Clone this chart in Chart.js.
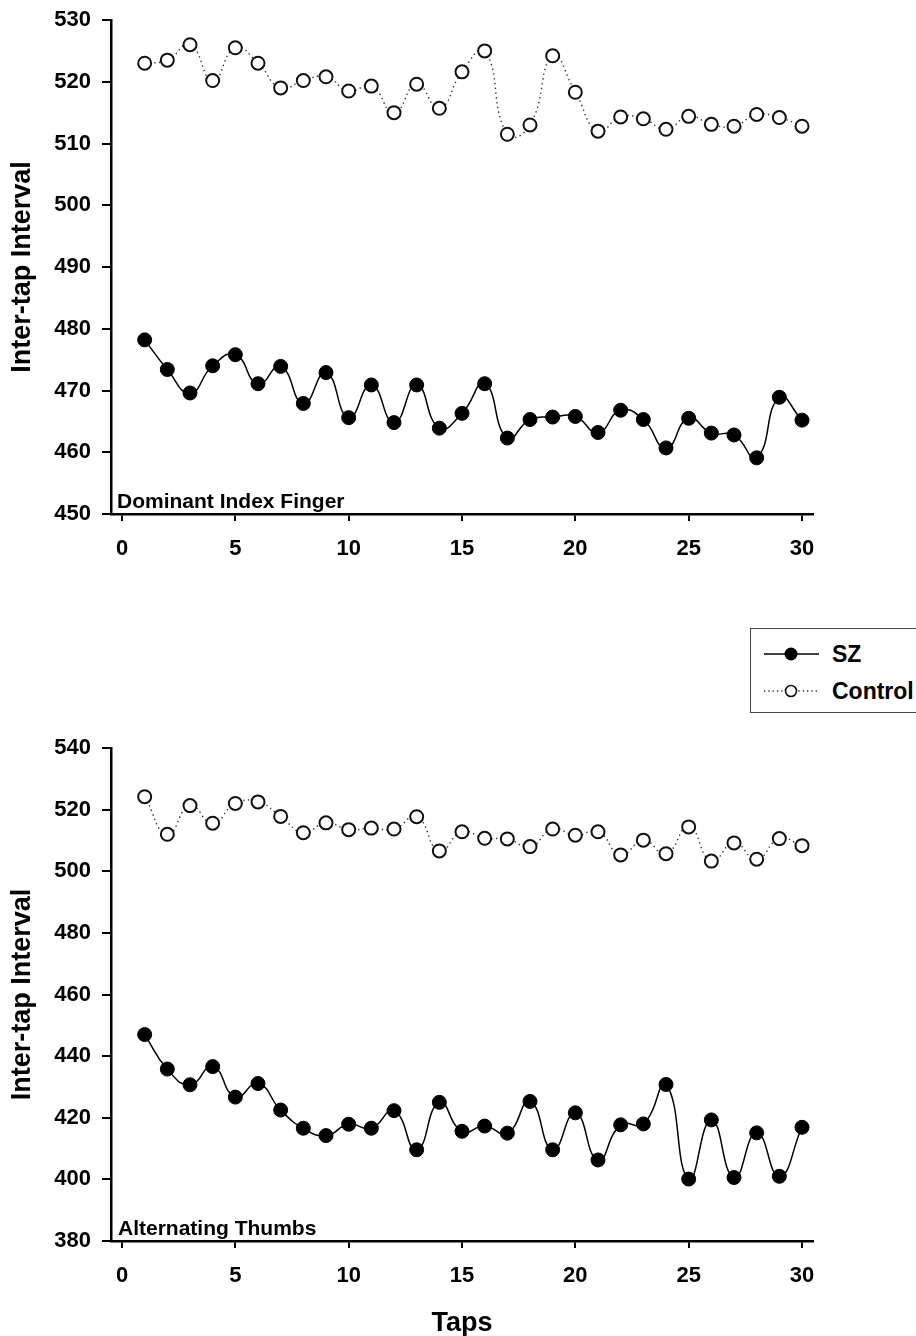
<!DOCTYPE html>
<html>
<head>
<meta charset="utf-8">
<title>Inter-tap Interval</title>
<script src="https://cdn.jsdelivr.net/npm/chart.js@4/dist/chart.umd.min.js"></script>
<style>
  body { margin: 0; background: #fff; }
  #page { position: relative; width: 916px; height: 1336px; overflow: hidden; font-family: "Liberation Sans", Arial, sans-serif; color: #000; }
  #page canvas { position: absolute; left: 0; }
  .panel-label { position: absolute; font-size: 21px; line-height: 21px; font-weight: bold; white-space: nowrap; }
  #legend { position: absolute; left: 750px; top: 628px; width: 200px; height: 85px; border: 1px solid #444; box-sizing: border-box; background: #fff; }
  #legend svg { position: absolute; left: 0; top: 0; }
  #legend span { position: absolute; left: 81px; font-size: 23px; line-height: 26px; font-weight: bold; }
</style>
</head>
<body>
<div id="page">
  <canvas id="indexChart" width="916" height="570" style="top:0px"></canvas>
  <canvas id="thumbsChart" width="916" height="608" style="top:728px"></canvas>

  <div class="panel-label" style="left:117px; top:490px;">Dominant Index Finger</div>
  <div class="panel-label" style="left:118px; top:1217px;">Alternating Thumbs</div>

  <div id="legend">
    <svg width="80" height="84">
      <line x1="13" y1="25" x2="68" y2="25" stroke="#000" stroke-width="1.5"/>
      <circle cx="40" cy="25" r="6.5" fill="#000"/>
      <line x1="13" y1="62" x2="68" y2="62" stroke="#333" stroke-width="1.3" stroke-dasharray="1.3 3"/>
      <circle cx="40" cy="62" r="5.5" fill="#fff" stroke="#111" stroke-width="1.6"/>
    </svg>
    <span style="top:12px">SZ</span>
    <span style="top:49px">Control</span>
  </div>
</div>

<script>
// data
const taps = [1, 2, 3, 4, 5, 6, 7, 8, 9, 10, 11, 12, 13, 14, 15, 16, 17, 18, 19, 20, 21, 22, 23, 24, 25, 26, 27, 28, 29, 30];
const tapTicks = [0, 5, 10, 15, 20, 25, 30];

// Dominant Index Finger
const szIndex = [478.2, 473.4, 469.6, 474.0, 475.8, 471.1, 473.9, 467.9, 472.9, 465.6,
                 470.9, 464.8, 470.9, 463.9, 466.3, 471.1, 462.3, 465.3, 465.7, 465.8,
                 463.2, 466.8, 465.3, 460.7, 465.5, 463.1, 462.8, 459.1, 468.9, 465.2];
const controlIndex = [523.0, 523.5, 526.0, 520.2, 525.5, 523.0, 519.0, 520.2, 520.8, 518.5,
                      519.3, 515.0, 519.6, 515.7, 521.6, 525.0, 511.5, 513.0, 524.2, 518.3,
                      512.0, 514.3, 514.0, 512.3, 514.4, 513.1, 512.8, 514.7, 514.2, 512.8];
const indexTicks = [450, 460, 470, 480, 490, 500, 510, 520, 530];

// Alternating Thumbs
const szThumbs = [447.0, 435.8, 430.7, 436.6, 426.7, 431.1, 422.5, 416.6, 414.2, 417.9,
                  416.6, 422.3, 409.6, 425.0, 415.6, 417.3, 415.0, 425.3, 409.6, 421.6,
                  406.3, 417.7, 418.0, 430.8, 400.1, 419.3, 400.6, 415.1, 401.0, 416.9];
const controlThumbs = [524.2, 512.0, 521.3, 515.6, 522.0, 522.5, 517.8, 512.5, 515.7, 513.5,
                       514.0, 513.7, 517.7, 506.6, 512.8, 510.7, 510.5, 508.0, 513.7, 511.7,
                       512.8, 505.3, 510.1, 505.7, 514.4, 503.3, 509.2, 503.9, 510.6, 508.3];
const thumbsTicks = [380, 400, 420, 440, 460, 480, 500, 520, 540];

const tickFont = { family: "Liberation Sans", size: 22, weight: "bold" };
const titleFont = { family: "Liberation Sans", size: 27, weight: "bold", lineHeight: 1.05 };

function points(values) {
    return taps.map((t, i) => ({ x: t, y: values[i] }));
}

function drawPanel(canvasId, szValues, controlValues, yTicks, xTitle, xHeight) {
    return new Chart(canvasId, {
        type: "line",
        data: {
            datasets: [{
                label: "SZ",
                data: points(szValues),
                borderColor: "#000",
                borderWidth: 1.5,
                tension: 0.5,
                pointRadius: 7,
                pointBackgroundColor: "#000",
                pointBorderColor: "#000",
                pointBorderWidth: 1
            }, {
                label: "Control",
                data: points(controlValues),
                borderColor: "#333",
                borderWidth: 1.4,
                borderDash: [1.4, 3.4],
                tension: 0.5,
                pointRadius: 6.5,
                pointBackgroundColor: "#fff",
                pointBorderColor: "#111",
                pointBorderWidth: 2
            }]
        },
        options: {
            responsive: false,
            animation: false,
            layout: { autoPadding: false, padding: { top: 20, right: 103, left: 0, bottom: 0 } },
            plugins: {
                legend: { display: false },
                tooltip: { enabled: false }
            },
            scales: {
                x: {
                    type: "linear",
                    min: -0.485,
                    max: 30.485,
                    afterBuildTicks: s => { s.ticks = tapTicks.map(v => ({ value: v })); },
                    afterFit: s => { s.height = xHeight; s.paddingLeft = 0; s.paddingRight = 0; },
                    border: { display: true, color: "#000", width: 2.5 },
                    grid: { drawOnChartArea: false, tickLength: 7, color: "#000", lineWidth: 2 },
                    ticks: { color: "#000", padding: 15, font: tickFont, maxRotation: 0 },
                    title: {
                        display: xTitle !== "",
                        text: xTitle,
                        color: "#000",
                        font: titleFont,
                        padding: { top: 0, bottom: -2 }
                    }
                },
                y: {
                    type: "linear",
                    min: yTicks[0],
                    max: yTicks[yTicks.length - 1],
                    afterBuildTicks: s => { s.ticks = yTicks.map(v => ({ value: v })); },
                    // fixed axis width, and no extra room for the end labels
                    afterFit: s => { s.width = 111; s.paddingTop = 0; s.paddingBottom = 0; },
                    border: { display: true, color: "#000", width: 2.5 },
                    grid: { drawOnChartArea: false, tickLength: 9, color: "#000", lineWidth: 2 },
                    ticks: { color: "#000", padding: 11, font: tickFont },
                    title: {
                        display: true,
                        text: "Inter-tap Interval",
                        color: "#000",
                        font: titleFont,
                        padding: { top: 8, bottom: 0 }
                    }
                }
            }
        }
    });
}

drawPanel("indexChart", szIndex, controlIndex, indexTicks, "", 56);
drawPanel("thumbsChart", szThumbs, controlThumbs, thumbsTicks, "Taps", 95);
</script>
</body>
</html>
